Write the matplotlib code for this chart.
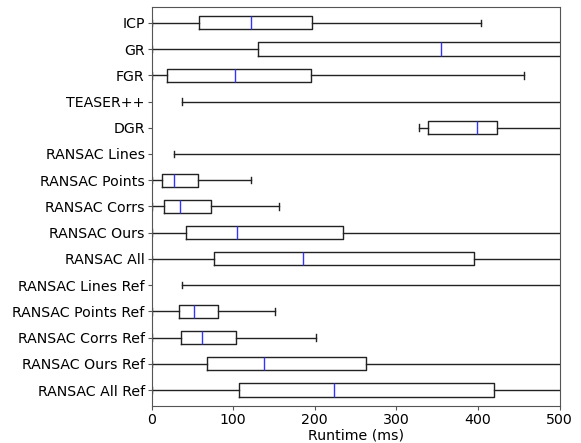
import matplotlib
matplotlib.use('Agg')
import matplotlib.pyplot as plt

# Methods, top to bottom
methods = ['ICP', 'GR', 'FGR', 'TEASER++', 'DGR', 'RANSAC Lines', 'RANSAC Points',
           'RANSAC Corrs', 'RANSAC Ours', 'RANSAC All', 'RANSAC Lines Ref',
           'RANSAC Points Ref', 'RANSAC Corrs Ref', 'RANSAC Ours Ref', 'RANSAC All Ref']

# Box statistics in ms (values past 500 are clipped in the original)
whislo = [1, 1, 1, 37.6, 328, 27.8, 1, 1, 1, 1, 37.6, 1, 1, 1, 1]
q1 = [58.4, 130.8, 19.2, 620, 339, 620, 12.6, 15.5, 41.7, 76.8, 620, 33.9, 36.3, 68.2, 106.7]
med = [121.8, 354.8, 101.8, 700, 398.6, 700, 27.8, 34.7, 105, 186, 700, 51.5, 61.7, 137.7, 223.2]
q3 = [197, 650, 195, 800, 423.5, 800, 56.4, 72.4, 235, 395.7, 800, 81.7, 103, 263.2, 419.8]
whishi = [404.3, 900, 456.6, 1000, 700, 1000, 121.8, 156.6, 700, 800, 1000, 151.6, 201.9, 700, 800]

stats = []
for i, name in enumerate(methods):
    stats.append({'label': name, 'whislo': whislo[i], 'q1': q1[i], 'med': med[i],
                  'q3': q3[i], 'whishi': whishi[i], 'fliers': []})

fig = plt.figure(figsize=(5.81, 4.43), dpi=100)
ax = fig.add_axes([0.261, 0.084, 0.702, 0.9])

n = len(methods)
positions = list(range(n, 0, -1))
ax.bxp(stats, positions=positions, vert=False, widths=0.5, showfliers=False,
       boxprops=dict(color='#222222', linewidth=1),
       whiskerprops=dict(color='#222222', linewidth=1),
       capprops=dict(color='#222222', linewidth=1),
       medianprops=dict(color='#3333ff', linewidth=1))

ax.set_xlim(0, 500)
ax.set_ylim(0.4, n + 0.6)
ax.set_xticks([0, 100, 200, 300, 400, 500])
ax.tick_params(labelsize=10.2, length=3, width=0.8, colors='#555555', labelcolor='black')
ax.tick_params(axis='y', pad=2)
ax.tick_params(axis='x', pad=2)
ax.set_xlabel('Runtime (ms)', fontsize=10.2, labelpad=1)
for s in ax.spines.values():
    s.set_color('#555555')

fig.savefig('out.png', dpi=100)
